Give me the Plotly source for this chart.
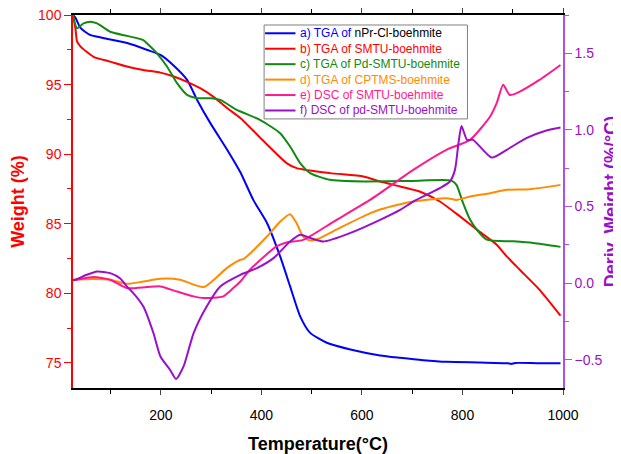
import plotly.graph_objects as go

# ---- data ----
T_a = [25, 30, 40, 59, 85, 133, 173, 199, 224, 252, 272, 298, 332, 358, 384, 411, 437, 457, 477, 497, 530, 577, 636, 676, 722, 769, 835, 890, 897, 905, 950, 995]
W_a = [100, 99.8, 99.07, 98.57, 98.35, 97.99, 97.49, 97.13, 96.41, 95.34, 93.9, 92.25, 90.3, 88.7, 86.7, 85.06, 82.67, 80.5, 78.35, 77.16, 76.45, 75.97, 75.54, 75.37, 75.2, 75.08, 75.03, 74.98, 74.93, 75.0, 74.98, 74.98]

T_b = [25, 30, 33, 40, 66, 99, 132, 165, 199, 224, 252, 278, 304, 332, 358, 397, 450, 470, 536, 603, 636, 676, 716, 755, 795, 835, 868, 888, 914, 953, 995]
W_b = [100, 99.0, 98.1, 97.73, 97.0, 96.65, 96.3, 96.05, 95.86, 95.6, 95.2, 94.74, 94.14, 93.3, 92.6, 91.2, 89.36, 89.0, 88.64, 88.4, 88.04, 87.68, 87.3, 86.6, 85.53, 84.4, 83.5, 82.66, 81.7, 80.27, 78.4]

T_c = [25, 33, 46, 59, 73, 99, 132, 165, 172, 192, 212, 232, 252, 272, 298, 318, 351, 397, 437, 457, 477, 497, 536, 603, 700, 778, 788, 801, 815, 828, 848, 901, 941, 995]
W_c = [100, 99.05, 99.4, 99.52, 99.4, 98.8, 98.5, 98.2, 97.97, 97.25, 96.3, 95.1, 94.26, 94.02, 94.02, 93.9, 93.18, 92.47, 91.51, 90.55, 89.36, 88.64, 88.16, 88.04, 88.08, 88.1, 87.8, 86.5, 85.3, 84.6, 83.86, 83.74, 83.62, 83.34]

T_d = [25, 30, 66, 99, 132, 165, 199, 238, 285, 331, 358, 364, 411, 437, 457, 470, 483, 497, 516, 556, 609, 636, 676, 702, 768, 788, 815, 855, 888, 934, 995]
D_d = [0.02, 0.022, 0.026, 0.022, -0.005, 0.01, 0.028, 0.022, -0.026, 0.098, 0.152, 0.156, 0.304, 0.40, 0.45, 0.39, 0.304, 0.278, 0.293, 0.36, 0.445, 0.48, 0.515, 0.532, 0.554, 0.543, 0.565, 0.587, 0.609, 0.613, 0.641]

T_e = [25, 30, 66, 99, 132, 172, 199, 232, 265, 285, 324, 344, 358, 377, 430, 450, 483, 543, 616, 636, 702, 768, 815, 855, 868, 881, 894, 914, 953, 995]
D_e = [0.02, 0.022, 0.039, 0.022, -0.033, -0.026, -0.022, -0.055, -0.087, -0.098, -0.087, -0.033, 0.01, 0.087, 0.239, 0.265, 0.282, 0.40, 0.543, 0.587, 0.739, 0.87, 0.935, 1.087, 1.174, 1.294, 1.228, 1.25, 1.326, 1.424]

T_f = [25, 30, 52, 73, 99, 119, 132, 145, 165, 185, 199, 218, 230, 245, 265, 291, 318, 358, 391, 424, 457, 477, 497, 523, 576, 636, 676, 702, 755, 775, 785, 792, 798, 809, 821, 858, 888, 927, 967, 995]
D_f = [0.02, 0.022, 0.054, 0.076, 0.065, 0.03, -0.022, -0.065, -0.153, -0.326, -0.479, -0.566, -0.626, -0.544, -0.326, -0.153, -0.022, 0.054, 0.098, 0.163, 0.271, 0.315, 0.294, 0.271, 0.326, 0.413, 0.478, 0.532, 0.62, 0.663, 0.739, 0.913, 1.026, 0.935, 0.935, 0.819, 0.87, 0.946, 0.996, 1.015]

legend_prefix = ["a) TGA of", "b) TGA of", "c) TGA of", "d) TGA of", "e) DSC of", "f) DSC of"]
legend_sample = ["nPr-Cl-boehmite", "SMTU-boehmite", "Pd-SMTU-boehmite",
                 "CPTMS-boehmite", "SMTU-boehmite", "pd-SMTU-boehmite"]
colors = ["#0000FF", "#FF0000", "#128A12", "#FF8C00", "#FF1A8C", "#9A10C8"]

series = [(T_a, W_a, "y"), (T_b, W_b, "y"), (T_c, W_c, "y"),
          (T_d, D_d, "y2"), (T_e, D_e, "y2"), (T_f, D_f, "y2")]

fig = go.Figure()
for (x, y, ax), pre, smp, c in zip(series, legend_prefix, legend_sample, colors):
    fig.add_trace(go.Scatter(x=x, y=y, yaxis=ax, name=pre + " " + smp, mode="lines",
                             showlegend=False,
                             line=dict(color=c, width=2, shape="spline", smoothing=0.6)))

FONT = "Liberation Sans, Arial, sans-serif"
AX_PURPLE = "#B04FE0"
TXT_PURPLE = "#9A10C8"

# ---- legend box (drawn as layout decoration to match the compact original) ----
LX0, LX1, LY0, LY1 = 0.390, 0.805, 0.7214, 0.9732
ITEM_Y0, ITEM_STEP = 0.951, 0.0414
shapes = [dict(type="rect", xref="paper", yref="paper", x0=LX0, x1=LX1, y0=LY0, y1=LY1,
               line=dict(color="#808080", width=1), fillcolor="white", layer="above")]
annotations = []
for i, (pre, smp, c) in enumerate(zip(legend_prefix, legend_sample, colors)):
    yy = ITEM_Y0 - i * ITEM_STEP
    shapes.append(dict(type="line", xref="paper", yref="paper", x0=0.392, x1=0.454, y0=yy, y1=yy,
                       line=dict(color=c, width=2), layer="above"))
    smp_col = "black" if i == 0 else c
    annotations.append(dict(xref="paper", yref="paper", x=0.459, y=yy, xanchor="left", yanchor="middle",
                            showarrow=False, align="left",
                            text=f"<span style='color:{c}'>{pre}</span> <span style='color:{smp_col}'>{smp}</span>",
                            font=dict(family=FONT, size=12)))

fig.update_layout(
    width=613, height=446,
    margin=dict(l=65, r=58, t=7, b=66, autoexpand=False),
    paper_bgcolor="white", plot_bgcolor="white",
    font=dict(family=FONT, size=14, color="black"),
    showlegend=False,
    shapes=shapes, annotations=annotations,
    xaxis=dict(range=[25, 1000], tick0=0, dtick=200, ticks="outside", ticklen=5, tickwidth=1,
               showline=True, linecolor="black", linewidth=1.5, mirror="ticks",
               showgrid=False, zeroline=False, automargin=False, ticklabelstandoff=8,
               ticklabeloverflow="allow",
               minor=dict(ticks="outside", dtick=100, tick0=0, ticklen=4, tickcolor="black", showgrid=False),
               tickfont=dict(size=14, color="black"),
               title=dict(text="<b>Temperature(°C)</b>", font=dict(size=18, color="black"), standoff=18)),
    yaxis=dict(range=[73.2, 100.001], tick0=0, dtick=5, ticks="outside", ticklen=7, tickwidth=1,
               tickcolor="#FF0000", ticklabeloverflow="allow",
               showline=True, linecolor="#FF0000", linewidth=1.5, mirror=False,
               showgrid=False, zeroline=False, automargin=False,
               minor=dict(ticks="outside", dtick=2.5, tick0=0, ticklen=4, tickcolor="#FF0000", showgrid=False),
               tickfont=dict(size=14, color="#FF0000"),
               title=dict(text="<b>Weight (%)</b>", font=dict(size=18, color="#FF0000"), standoff=16)),
    yaxis2=dict(range=[-0.685, 1.75], overlaying="y", side="right", tick0=0, dtick=0.5,
                tickformat=".1f", ticks="outside", ticklen=7, tickwidth=1, tickcolor=AX_PURPLE,
                ticklabeloverflow="allow",
                showline=True, linecolor=AX_PURPLE, linewidth=1.5,
                showgrid=False, zeroline=False, automargin=False,
                minor=dict(ticks="outside", dtick=0.25, tick0=0, ticklen=4, tickcolor=AX_PURPLE, showgrid=False),
                tickfont=dict(size=14, color=TXT_PURPLE),
                title=dict(text="<b>Deriv. Weight (%/°C)</b>", font=dict(size=18, color=TXT_PURPLE), standoff=3)),
)

fig.write_html("out.html")
